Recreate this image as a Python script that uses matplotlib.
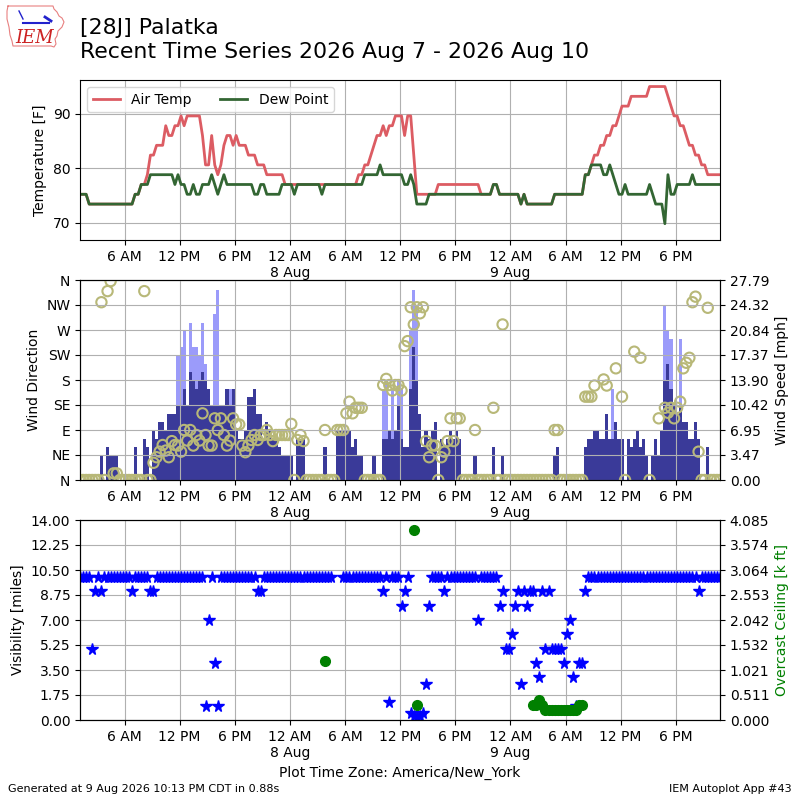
import matplotlib
matplotlib.use("Agg")
import matplotlib.pyplot as plt
import matplotlib.dates as mdates
from matplotlib.ticker import FuncFormatter, FormatStrFormatter
import numpy as np
import pandas as pd

# observations every 20 minutes, local time America/New_York
valid = pd.date_range("2026-08-07 01:09", periods=210, freq="20min")

temp_c = [
    24, 24, 24, 23, 23, 23, 23, 23, 23, 23,
    23, 23, 23, 23, 23, 23, 23, 23, 24, 24,
    25, 25, 26, 28, 28, 29, 29, 29, 31, 30,
    30, 31, 31, 32, 31, 32, 32, 32, 32, 32,
    30, 27, 27, 30, 27, 26, 27, 29, 30, 30,
    29, 30, 29, 29, 29, 28, 28, 28, 27, 27,
    27, 26, 26, 26, 26, 26, 26, 25, 25, 25,
    25, 25, 25, 25, 25, 25, 25, 25, 25, 25,
    25, 25, 25, 25, 25, 25, 25, 25, 25, 25,
    25, 26, 26, 27, 27, 28, 29, 30, 30, 31,
    30, 31, 31, 32, 32, 32, 30, 32, 32, 28,
    24, 24, 24, 24, 24, 24, 24, 25, 25, 25,
    25, 25, 25, 25, 25, 25, 25, 25, 25, 25,
    25, 24, 24, 24, 24, 25, 25, 24, 24, 24,
    24, 24, 24, 24, 23, 24, 23, 23, 23, 23,
    23, 23, 23, 23, 23, 24, 24, 24, 24, 24,
    24, 24, 24, 24, 24, 26, 26, 27, 28, 28,
    29, 29, 30, 30, 31, 31, 32, 33, 33, 33,
    34, 34, 34, 34, 34, 34, 35, 35, 35, 35,
    35, 35, 34, 33, 32, 32, 31, 31, 30, 29,
    29, 28, 28, 27, 27, 26, 26, 26, 26, 26,
]

dwpt_c = [
    24, 24, 24, 23, 23, 23, 23, 23, 23, 23,
    23, 23, 23, 23, 23, 23, 23, 23, 24, 24,
    25, 25, 25, 26, 26, 26, 26, 26, 26, 26,
    26, 25, 26, 25, 25, 24, 24, 25, 24, 24,
    25, 25, 25, 26, 25, 24, 25, 26, 25, 25,
    25, 25, 25, 25, 25, 25, 25, 24, 24, 25,
    25, 24, 24, 24, 24, 24, 25, 25, 25, 25,
    24, 25, 25, 25, 25, 25, 25, 25, 25, 24,
    25, 25, 25, 25, 25, 25, 25, 25, 25, 25,
    25, 25, 25, 26, 26, 26, 26, 26, 27, 26,
    26, 26, 26, 26, 26, 26, 25, 25, 26, 25,
    23, 23, 23, 23, 24, 24, 24, 24, 24, 24,
    24, 24, 24, 24, 24, 24, 24, 24, 24, 24,
    24, 24, 24, 24, 24, 25, 25, 24, 24, 24,
    24, 24, 24, 24, 23, 24, 23, 23, 23, 23,
    23, 23, 23, 23, 23, 24, 24, 24, 24, 24,
    24, 24, 24, 24, 24, 26, 26, 27, 27, 27,
    27, 26, 26, 27, 26, 25, 24, 24, 25, 24,
    24, 24, 24, 24, 24, 24, 25, 24, 23, 23,
    23, 21, 26, 24, 24, 25, 25, 25, 25, 25,
    26, 25, 25, 25, 25, 25, 25, 25, 25, 25,
]

# wind speed and gust [knots]
sknt = [
    0, 0, 0, 0, 0, 0, 0, 3, 0, 4,
    3, 3, 3, 0, 0, 0, 0, 0, 4, 0,
    0, 5, 4, 0, 6, 5, 7, 7, 6, 8,
    8, 8, 9, 9, 11, 9, 13, 12, 11, 12,
    13, 12, 11, 9, 9, 9, 9, 9, 11, 9,
    11, 6, 5, 5, 6, 10, 10, 11, 8, 8,
    5, 7, 6, 5, 5, 4, 3, 3, 3, 3,
    0, 5, 5, 5, 0, 0, 0, 0, 0, 0,
    4, 0, 0, 0, 6, 6, 6, 6, 6, 4,
    5, 3, 3, 0, 0, 0, 3, 0, 0, 5,
    5, 6, 5, 6, 9, 5, 4, 4, 11, 16,
    12, 8, 4, 6, 5, 6, 7, 0, 5, 4,
    5, 6, 5, 6, 5, 0, 0, 0, 0, 3,
    0, 0, 0, 0, 0, 4, 0, 0, 3, 0,
    0, 0, 0, 0, 0, 0, 0, 0, 0, 0,
    0, 0, 0, 0, 0, 3, 4, 0, 0, 0,
    0, 0, 0, 0, 0, 4, 5, 5, 6, 6,
    5, 5, 8, 5, 5, 7, 5, 5, 0, 5,
    4, 5, 6, 4, 5, 3, 0, 3, 5, 3,
    6, 12, 14, 11, 9, 8, 9, 7, 7, 5,
    5, 7, 5, 0, 0, 4, 0, 0, 0, 0,
]

gust = [
    0, 0, 0, 0, 0, 0, 0, 0, 0, 0,
    0, 0, 0, 0, 0, 0, 0, 0, 0, 0,
    0, 0, 0, 0, 0, 0, 0, 0, 0, 0,
    0, 0, 15, 16, 18, 0, 19, 16, 16, 15,
    19, 14, 0, 0, 20, 23, 0, 0, 11, 11,
    0, 0, 0, 0, 0, 0, 0, 0, 0, 0,
    0, 0, 0, 0, 0, 0, 0, 0, 0, 0,
    0, 0, 0, 0, 0, 0, 0, 0, 0, 0,
    0, 0, 0, 0, 0, 0, 0, 0, 0, 0,
    0, 0, 0, 0, 0, 0, 0, 0, 0, 11,
    12, 0, 11, 0, 12, 11, 0, 0, 18, 23,
    21, 0, 0, 0, 0, 0, 0, 0, 0, 0,
    0, 0, 0, 0, 0, 0, 0, 0, 0, 0,
    0, 0, 0, 0, 0, 0, 0, 0, 0, 0,
    0, 0, 0, 0, 0, 0, 0, 0, 0, 0,
    0, 0, 0, 0, 0, 0, 0, 0, 0, 0,
    0, 0, 0, 0, 0, 0, 0, 0, 0, 0,
    0, 0, 0, 0, 11, 0, 0, 0, 0, 0,
    0, 0, 0, 0, 0, 0, 0, 0, 0, 0,
    0, 21, 18, 17, 0, 0, 17, 0, 0, 0,
    0, 0, 0, 0, 0, 0, 0, 0, 0, 0,
]

nan = np.nan
drct = [
    0, 0, 0, 0, 0, 0, 0, 320, 0, 340,
    358, 12, 12, 0, 0, 0, 0, 0, 0, 0,
    0, 340, 0, 0, 31, 41, 51, 63, 53, 41,
    70, 63, 62, 51, 90, 71, 90, 62, 81, 71,
    120, 81, 62, 62, 111, 90, 111, 81, 62, 71,
    111, 100, 100, 62, 50, 62, 72, 81, 72, 81,
    81, 90, 81, 70, 81, 81, 81, 81, 81, 101,
    0, 72, 81, 70, 0, 0, 0, 0, 0, 0,
    90, 0, 0, 0, 90, 90, 90, 120, 141, 120,
    130, 130, 130, 0, 0, 0, 0, 0, 0, 171,
    182, 171, 161, 171, 171, 161, 241, 250, 311, 280,
    311, 300, 311, 70, 41, 62, 62, 0, 41, 51,
    70, 111, 70, 111, 111, 0, 0, 0, 0, 90,
    0, 0, 0, 0, 0, 130, 0, 0, 280, 0,
    0, 0, 0, 0, 0, 0, 0, 0, 0, 0,
    0, 0, 0, 0, 0, 90, 90, 0, 0, 0,
    0, 0, 0, 0, 0, 150, 150, 150, 170, nan,
    nan, 181, 170, nan, nan, 201, nan, 150, 0, nan,
    nan, 231, nan, 220, nan, nan, 0, nan, nan, 111,
    nan, 130, 121, 130, 111, 130, 141, 201, 211, 220,
    320, 330, 51, 0, 0, 310, 0, 0, 0, 0,
]

# visibility [miles]
vsby = [
    10, 10, 10, 10, 5, 9, 10, 9, 10, 10,
    10, 10, 10, 10, 10, 10, 10, 9, 10, 10,
    10, 10, 10, 9, 9, 10, 10, 10, 10, 10,
    10, 10, 10, 10, 10, 10, 10, 10, 10, 10,
    10, 1, 7, 10, 4, 1, 10, 10, 10, 10,
    10, 10, 10, 10, 10, 10, 10, 10, 9, 9,
    10, 10, 10, 10, 10, 10, 10, 10, 10, 10,
    10, 10, 10, 10, 10, 10, 10, 10, 10, 10,
    10, 10, 10, nan, nan, nan, 10, 10, 10, 10,
    10, 10, 10, 10, 10, 10, 10, 10, 10, 9,
    10, 1.25, 10, 10, 10, 8, 9, 10, 0.5, 0.25,
    0.25, 0.25, 0.5, 2.5, 8, 10, 10, 10, 10, 9,
    10, 10, 10, 10, 10, 10, 10, 10, 10, 10,
    7, 10, 10, 10, 10, 10, 10, 8, 9, 5,
    5, 6, 8, 9, 2.5, 9, 8, 9, 9, 4,
    3, 9, 5, 9, 5, 5, 5, 5, 4, 6,
    7, 3, 1, 4, 4, 9, 10, 10, 10, 10,
    10, 10, 10, 10, 10, 10, 10, 10, 10, 10,
    10, 10, 10, 10, 10, 10, 10, 10, 10, 10,
    10, 10, 10, 10, 10, 10, 10, 10, 10, 10,
    10, 10, 9, 10, 10, 10, 10, 10, 10, 10,
]

# overcast ceiling [k ft], only at the obs that reported one
ceil_obs = [80, 109, 110, 148, 149, 150, 151, 152, 153, 154, 155, 156,
            157, 158, 159, 160, 161, 162, 163, 164]
ceil_kft = [1.2, 3.89, 0.3, 0.3, 0.3, 0.4, 0.3, 0.2, 0.2, 0.2, 0.2, 0.2,
            0.2, 0.2, 0.2, 0.2, 0.2, 0.2, 0.3, 0.3]

tmpf = np.array(temp_c) * 9 / 5 + 32
dwpf = np.array(dwpt_c) * 9 / 5 + 32
smph = np.array(sknt) * 1.15078
gmph = np.array(gust) * 1.15078
vsby = np.array(vsby, dtype=float)
drct = np.array(drct, dtype=float)


def timefmt(x, pos=None):
    d = mdates.num2date(x)
    if d.hour == 0:
        return "12 AM\n%d %s" % (d.day, d.strftime("%b"))
    h = d.hour % 12
    if h == 0:
        h = 12
    return "%d %s" % (h, "AM" if d.hour < 12 else "PM")


def timeaxis(ax):
    ax.xaxis.set_major_locator(mdates.HourLocator(byhour=[0, 6, 12, 18]))
    ax.xaxis.set_major_formatter(FuncFormatter(timefmt))
    ax.set_xlim(valid[0], valid[-1])


fig = plt.figure(figsize=(8, 8), dpi=100)

# temperature
ax1 = fig.add_axes([0.1, 0.7, 0.8, 0.2])
ax1.plot(valid, tmpf, color="#dc5c63", lw=2, label="Air Temp")
ax1.plot(valid, dwpf, color="#336633", lw=2, label="Dew Point")
ax1.set_ylim(dwpf.min() - 3, tmpf.max() + 1.2)
ax1.set_ylabel("Temperature [F]")
ax1.legend(loc="upper left", ncol=2)
ax1.grid(True)
timeaxis(ax1)

# wind
ax2 = fig.add_axes([0.1, 0.4, 0.8, 0.25])
ax2b = ax2.twinx()
ax2b.bar(valid, gmph, width=1 / 72, color="#9b9bfa", lw=0, antialiased=False)
ax2b.bar(valid, smph, width=1 / 72, color="#3a3a99", lw=0, antialiased=False)
smax = gmph.max() * 1.05
ax2b.set_ylim(0, smax)
ax2b.set_yticks(np.linspace(0, smax, 9))
ax2b.yaxis.set_major_formatter(FormatStrFormatter("%.2f"))
ax2b.set_ylabel("Wind Speed [mph]")
ax2.set_zorder(ax2b.get_zorder() + 1)
ax2.patch.set_visible(False)
ax2.scatter(valid, drct, s=55, facecolors="none", edgecolors="#b8b878", lw=1.5)
ax2.set_ylim(0, 360)
ax2.set_yticks(range(0, 361, 45))
ax2.set_yticklabels(["N", "NE", "E", "SE", "S", "SW", "W", "NW", "N"])
ax2.set_ylabel("Wind Direction")
ax2.grid(True)
timeaxis(ax2)
timeaxis(ax2b)

# visibility and ceiling
ax3 = fig.add_axes([0.1, 0.1, 0.8, 0.25])
ax3.plot(valid, vsby, "*", color="b", ms=8.5, ls="none")
ax3.set_ylim(0, 14)
ax3.set_yticks(np.linspace(0, 14, 9))
ax3.yaxis.set_major_formatter(FormatStrFormatter("%.2f"))
ax3.set_ylabel("Visibility [miles]")
ax3.grid(True)
ax3b = ax3.twinx()
ax3b.plot(valid[ceil_obs], ceil_kft, "o", color="g", ms=7, ls="none")
ax3b.set_ylim(0, 4.085)
ax3b.set_yticks(np.linspace(0, 4.085, 9))
ax3b.yaxis.set_major_formatter(FormatStrFormatter("%.3f"))
ax3b.set_ylabel("Overcast Ceiling [k ft]", color="g")
ax3.set_xlabel("Plot Time Zone: America/New_York")
timeaxis(ax3)
timeaxis(ax3b)

fig.text(0.1, 0.977, "[28J] Palatka\nRecent Time Series 2026 Aug 7 - 2026 Aug 10",
         fontsize=15.8, va="top")

# small IEM logo, state outline with the letters
logo = fig.add_axes([7 / 800, 1 - 52 / 800, 60 / 800, 48 / 800])
logo.set_xlim(0, 60)
logo.set_ylim(48, 0)
logo.axis("off")
outline_x = [1, 46, 47, 50, 52, 55, 57, 55, 51, 50, 48, 49, 47, 44, 6, 5, 3, 2, 0, 0, 1]
outline_y = [2, 2, 5, 8, 12, 14, 18, 23, 27, 32, 35, 40, 43, 42, 42, 37, 31, 23, 15, 7, 2]
logo.plot(outline_x, outline_y, color="#e88080", lw=0.8, clip_on=False)
logo.plot([16, 42], [19, 19], color="#2222cc", lw=1.5)
logo.plot([12, 16], [7, 15], color="#2222cc", lw=1)
logo.plot([38, 44], [13, 17], color="#2222cc", lw=2)
logo.text(8, 39, "IEM", fontsize=13, color="#cc2222", family="DejaVu Serif",
          style="italic")

fig.text(0.01, 0.01, "Generated at 9 Aug 2026 10:13 PM CDT in 0.88s", fontsize=8)
fig.text(0.99, 0.01, "IEM Autoplot App #43", fontsize=8, ha="right")

fig.savefig("out.png", dpi=100)
